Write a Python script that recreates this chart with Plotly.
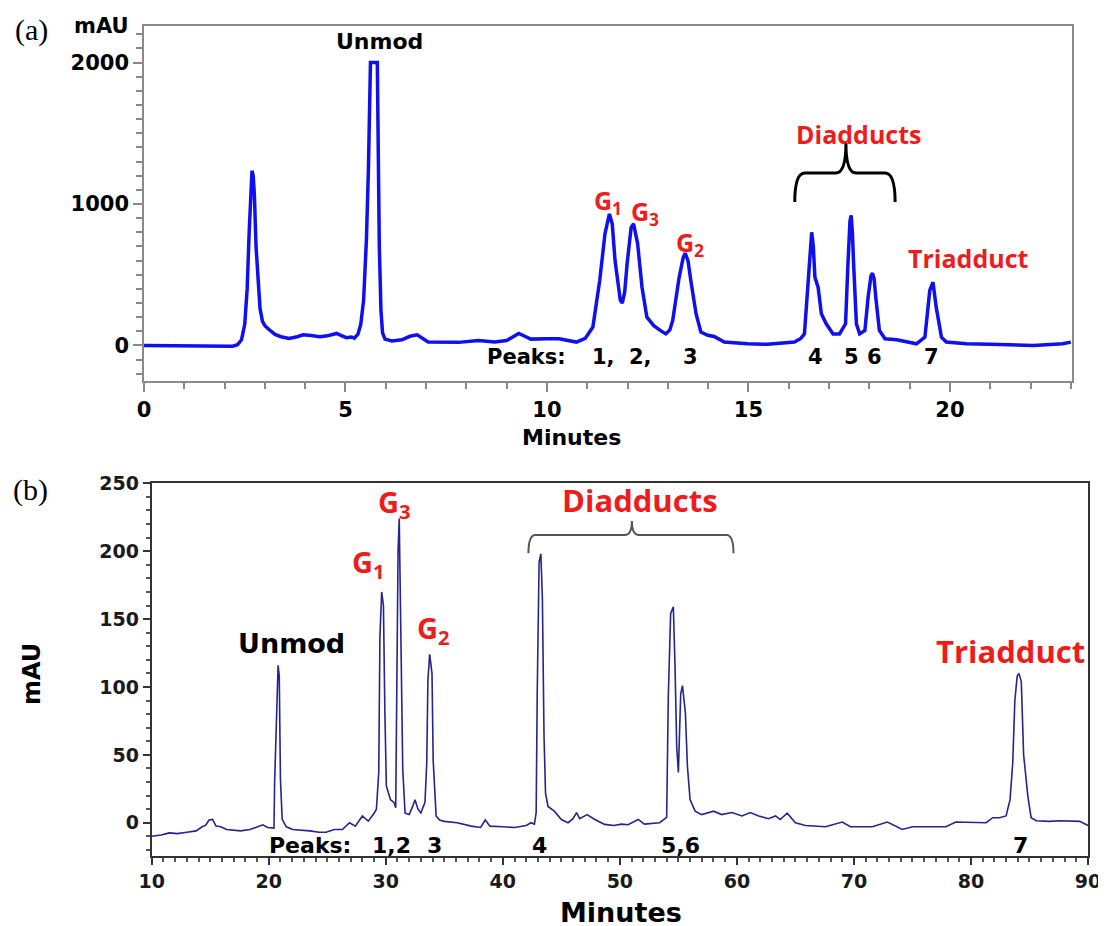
import plotly.graph_objects as go

# ---------------- Panel (a) data: retention time (min) vs absorbance (mAU) ----------------
time_a = [0.0, 1.0, 1.05, 2.2, 2.32, 2.42, 2.5, 2.56, 2.61, 2.65, 2.68, 2.71, 2.74, 2.78, 2.83,
          2.88, 2.94, 3.0, 3.08, 3.15, 3.25, 3.4, 3.6, 3.8, 3.95, 4.15, 4.36, 4.55, 4.78, 4.9,
          5.02, 5.15, 5.22, 5.31, 5.38, 5.45, 5.52, 5.57, 5.6, 5.62, 5.79, 5.81, 5.84, 5.88,
          5.92, 5.98, 6.15, 6.4, 6.6, 6.78, 6.9, 7.05, 7.8, 8.3, 8.7, 9.0, 9.15, 9.3, 9.45,
          9.6, 10.0, 10.3, 10.73, 10.95, 11.14, 11.31, 11.44, 11.55, 11.62, 11.69, 11.82,
          11.87, 11.93, 11.99, 12.09, 12.15, 12.25, 12.36, 12.48, 12.65, 12.82, 12.95, 13.05,
          13.12, 13.28, 13.38, 13.43, 13.5, 13.57, 13.7, 13.82, 13.99, 14.15, 14.4, 14.98,
          15.48, 16.14, 16.3, 16.39, 16.46, 16.5, 16.57, 16.61, 16.65, 16.73, 16.81, 16.93,
          17.1, 17.26, 17.41, 17.47, 17.52, 17.55, 17.58, 17.61, 17.68, 17.76, 17.89, 17.97,
          18.04, 18.08, 18.12, 18.16, 18.25, 18.39, 18.68, 19.17, 19.38, 19.5, 19.58, 19.66,
          19.79, 19.91, 20.41, 21.24, 22.07, 22.8, 23.0]
mau_a = [0, 0, -5, -5, 5, 40, 150, 400, 800, 1150, 1235, 1200, 1060, 700, 420,
         260, 170, 140, 118, 100, 78, 62, 50, 62, 75, 70, 62, 68, 85, 70,
         55, 60, 52, 80, 150, 320, 750, 1250, 1700, 2000, 2000, 1450, 700, 250,
         90, 45, 32, 40, 65, 75, 55, 25, 22, 35, 25, 35, 60, 85, 65,
         45, 48, 47, 24, 50, 130, 460, 790, 930, 860, 600, 320,
         300, 380, 580, 835, 860, 720, 410, 200, 140, 105, 82, 110,
         175, 480, 620, 652, 600, 460, 225, 95, 72, 64, 25, 12,
         8, 24, 50, 82, 350, 580, 800, 700, 483, 410, 225, 153,
         82, 82, 153, 577, 880, 920, 800, 577, 153, 82, 106, 341,
         490, 511, 470, 341, 106, 47, 40, 12, 59, 389, 447, 271,
         59, 24, 12, 7, 0, 12, 24]

# ---------------- Panel (b) data ----------------
time_b = [10.0, 10.8, 11.5, 12.2, 13.0, 13.8, 14.3, 14.6, 14.9, 15.2, 15.5, 15.9, 16.4, 16.9,
          17.6, 18.4, 19.0, 19.5, 19.9, 20.45, 20.5, 20.65, 20.8, 20.9, 21.0, 21.15, 21.5,
          22.05, 23.0, 23.5, 24.3, 24.9, 25.6, 26.3, 26.9, 27.4, 28.0, 28.5, 29.0, 29.2, 29.4,
          29.5, 29.65, 29.8, 29.92, 30.05, 30.4, 30.7, 30.85, 30.92, 31.05, 31.15, 31.3,
          31.45, 31.65, 32.0, 32.3, 32.5, 32.75, 33.0, 33.35, 33.5, 33.6, 33.75, 33.95, 34.05,
          34.3, 34.6, 35.0, 36.1, 37.3, 38.1, 38.5, 38.9, 40.0, 41.0, 42.0, 42.4, 42.7, 42.85,
          42.94, 43.1, 43.25, 43.38, 43.52, 43.65, 43.86, 44.4, 45.0, 45.57, 46.0, 46.3, 46.57,
          47.2, 47.86, 48.7, 49.5, 50.14, 50.7, 51.57, 52.1, 53.4, 54.0, 54.14, 54.34, 54.57,
          54.71, 54.86, 55.0, 55.2, 55.35, 55.6, 55.77, 56.0, 56.43, 57.0, 58.0, 58.7, 59.57,
          60.43, 61.14, 61.86, 62.7, 63.3, 63.7, 64.3, 65.0, 65.86, 67.57, 69.0, 69.7, 70.43,
          71.57, 72.86, 74.14, 75.0, 76.7, 77.86, 78.7, 80.43, 81.3, 81.86, 82.43, 83.0, 83.34,
          83.57, 83.75, 83.95, 84.1, 84.3, 84.5, 84.86, 85.14, 85.57, 86.7, 87.57, 88.7,
          89.29, 90.0]
mau_b = [-10, -9, -7.5, -8, -7, -6, -3, -2, 2, 2.5, -2.5, -3, -5, -5.5,
         -6, -5, -3, -1.5, -3.5, -4, 29, 83, 116, 108, 32, 2.5, -3,
         -5, -5.5, -6, -7, -7, -5, -5, 0, -2.5, 5, 1.2, 7, 10, 37,
         137, 170, 160, 83, 27, 17, 15, 11, 77, 200, 224, 125,
         39, 7, 6, 12, 17, 10, 7.3, 15, 44, 105, 124, 110, 46,
         5, 2, 1, 0, -2.5, -3.5, 2, -2.5, -3, -3.5, -2, 0, -1, 7.5,
         95, 192, 198, 166, 64, 22, 12, 8.5, 2.4, 0, 3, 7.5, 3,
         6, 2.4, -1.2, -2, -1, -1.5, 2.4, -1, 0, 4, 93, 154, 159,
         117, 56, 37, 95, 101, 81, 42, 17, 8.5, 6, 8.5, 6, 7.5,
         5, 7.5, 5, 3, 5, 2.4, 7, 0, -2, -3, 0.5, -3, -3,
         -3, 0.5, -5, -3, -3, -3, 0.5, 0.5, 0, 3.7, 3.7, 5, 17,
         44, 90, 108, 110, 104, 50, 19.6, 3.7, 1.5, 1, 1.5, 1.5,
         1, -2]

# ---------------- Labels ----------------
peak_nums_a = ["1,", "2,", "3", "4", "5", "6", "7"]
peak_pos_a = [11.41, 12.33, 13.55, 16.67, 17.57, 18.14, 19.55]
peak_nums_b = ["1,2", "3", "4", "5,6", "7"]
peak_pos_b = [30.45, 34.13, 43.1, 55.15, 84.2]
g_labels = ["G<sub>1</sub>", "G<sub>3</sub>", "G<sub>2</sub>"]
g_pos_a = [(11.51, 1021), (12.43, 943), (13.55, 724)]
g_pos_b = [(28.5, 191), (30.71, 235), (34.04, 142)]

BOLD = "DejaVu Sans"
RED_FONT = "Open Sans"
RED = "#ee1c1c"
W, H, OFF = 1106, 926, 8   # page body offset of the figure


def px(xpix):
    return (xpix - OFF) / W


def py(ypix):
    return 1 - (ypix - OFF) / H


fig = go.Figure()
fig.add_trace(go.Scatter(x=time_a, y=mau_a, mode="lines", xaxis="x", yaxis="y",
                         line=dict(color="#1010ee", width=3.5), showlegend=False, hoverinfo="skip"))
fig.add_trace(go.Scatter(x=time_b, y=mau_b, mode="lines", xaxis="x2", yaxis="y2",
                         line=dict(color="#25258c", width=1.6), showlegend=False, hoverinfo="skip"))

ann = []


def add(text, x, y, size, color="black", family=BOLD, xref="x", yref="y", **kw):
    ann.append(dict(text=text, x=x, y=y, xref=xref, yref=yref, showarrow=False,
                    font=dict(family=family, size=size, color=color, weight="bold"),
                    xanchor="center", yanchor="middle", **kw))


# Panel (a) labels
add("Unmod", 5.84, 2152, 22)
for t, (gx, gy) in zip(g_labels, g_pos_a):
    add(t, gx, gy, 25, RED, RED_FONT)
add("Diadducts", 17.72, 1494, 25, RED, RED_FONT)
add("Triadduct", 20.45, 618, 25, RED, RED_FONT)
add("Peaks:", 9.5, -81, 21)
for t, p in zip(peak_nums_a, peak_pos_a):
    add(t, p, -81, 21)

# Panel (b) labels
add("Unmod", 21.93, 132, 27, xref="x2", yref="y2")
for t, (gx, gy) in zip(g_labels, g_pos_b):
    add(t, gx, gy, 29, RED, RED_FONT, xref="x2", yref="y2")
add("Diadducts", 51.73, 237.7, 31, RED, RED_FONT, xref="x2", yref="y2")
add("Triadduct", 83.36, 126.5, 31, RED, RED_FONT, xref="x2", yref="y2")
add("Peaks:", 23.53, -16.4, 22, xref="x2", yref="y2")
for t, p in zip(peak_nums_b, peak_pos_b):
    add(t, p, -16.4, 22, xref="x2", yref="y2")

# Axis titles / panel letters (paper coords)
add("mAU", px(101), py(26), 21, xref="paper", yref="paper")
add("Minutes", px(571), py(438), 22, xref="paper", yref="paper")
add("Minutes", px(621), py(912), 27, xref="paper", yref="paper")
add("mAU", px(32), py(674), 24, xref="paper", yref="paper", textangle=-90)
for lab, (lx, ly) in zip(["(a)", "(b)"], [(31, 30), (30, 490)]):
    ann.append(dict(text=lab, x=px(lx), y=py(ly), xref="paper", yref="paper", showarrow=False,
                    font=dict(family="Liberation Serif", size=30, color="black"),
                    xanchor="center", yanchor="middle"))


def brace(xl, xc, xr, yb, yh, yt, dx):
    return (f"M {xl},{yb} Q {xl},{yh} {xl+dx},{yh} L {xc-dx},{yh} Q {xc},{yh} {xc},{yt} "
            f"Q {xc},{yh} {xc+dx},{yh} L {xr-dx},{yh} Q {xr},{yh} {xr},{yb}")


shapes = [
    dict(type="path", xref="x", yref="y", path=brace(16.15, 17.42, 18.64, 1014, 1219, 1431, 0.25),
         line=dict(color="black", width=3)),
    dict(type="path", xref="x2", yref="y2", path=brace(42.19, 51.03, 59.71, 198.4, 211.9, 222.2, 0.6),
         line=dict(color="#555555", width=2)),
]

fig.update_layout(
    width=W, height=H, margin=dict(l=0, r=0, t=0, b=0, pad=0, autoexpand=False),
    paper_bgcolor="white", plot_bgcolor="white",
    annotations=ann, shapes=shapes,
    xaxis=dict(domain=[px(144), px(1072)], range=[0, 23.03], anchor="y", automargin=False,
               tickmode="array", tickvals=[0, 5, 10, 15, 20], ticks="outside", ticklen=9,
               tickcolor="#888888", tickwidth=1.5,
               minor=dict(dtick=1, ticks="outside", ticklen=6, tickcolor="#888888"),
               showline=True, linecolor="#8a8a8a", linewidth=1.5, mirror=True,
               showgrid=False, zeroline=False,
               tickfont=dict(family=BOLD, size=21, color="black", weight="bold")),
    yaxis=dict(domain=[py(381), py(26)], range=[-251, 2258], anchor="x", automargin=False,
               tickmode="array", tickvals=[0, 1000, 2000], ticks="outside", ticklen=9,
               tickcolor="#888888", tickwidth=1.5,
               minor=dict(dtick=100, ticks="outside", ticklen=6, tickcolor="#888888"),
               showline=True, linecolor="#8a8a8a", linewidth=1.5, mirror=True,
               showgrid=False, zeroline=False,
               tickfont=dict(family=BOLD, size=21, color="black", weight="bold")),
    xaxis2=dict(domain=[px(151.7), px(1088)], range=[10, 90], anchor="y2", automargin=False,
                tickmode="array", tickvals=[10, 20, 30, 40, 50, 60, 70, 80, 90],
                ticks="outside", ticklen=7, tickcolor="#333333", tickwidth=1.5,
                minor=dict(dtick=1, ticks="outside", ticklen=4, tickcolor="#555555"),
                showline=True, linecolor="#333333", linewidth=1.8, mirror=True,
                showgrid=False, zeroline=False,
                tickfont=dict(family=BOLD, size=19, color="#1a1a1a", weight="bold")),
    yaxis2=dict(domain=[py(856), py(483.3)], range=[-24.5, 250], anchor="x2", automargin=False,
                tickmode="array", tickvals=[0, 50, 100, 150, 200, 250],
                ticks="outside", ticklen=7, tickcolor="#333333", tickwidth=1.5,
                minor=dict(dtick=10, ticks="outside", ticklen=4, tickcolor="#555555"),
                showline=True, linecolor="#333333", linewidth=1.8, mirror=True,
                showgrid=False, zeroline=False,
                tickfont=dict(family=BOLD, size=19, color="#1a1a1a", weight="bold")),
)

fig.write_html("out.html")
